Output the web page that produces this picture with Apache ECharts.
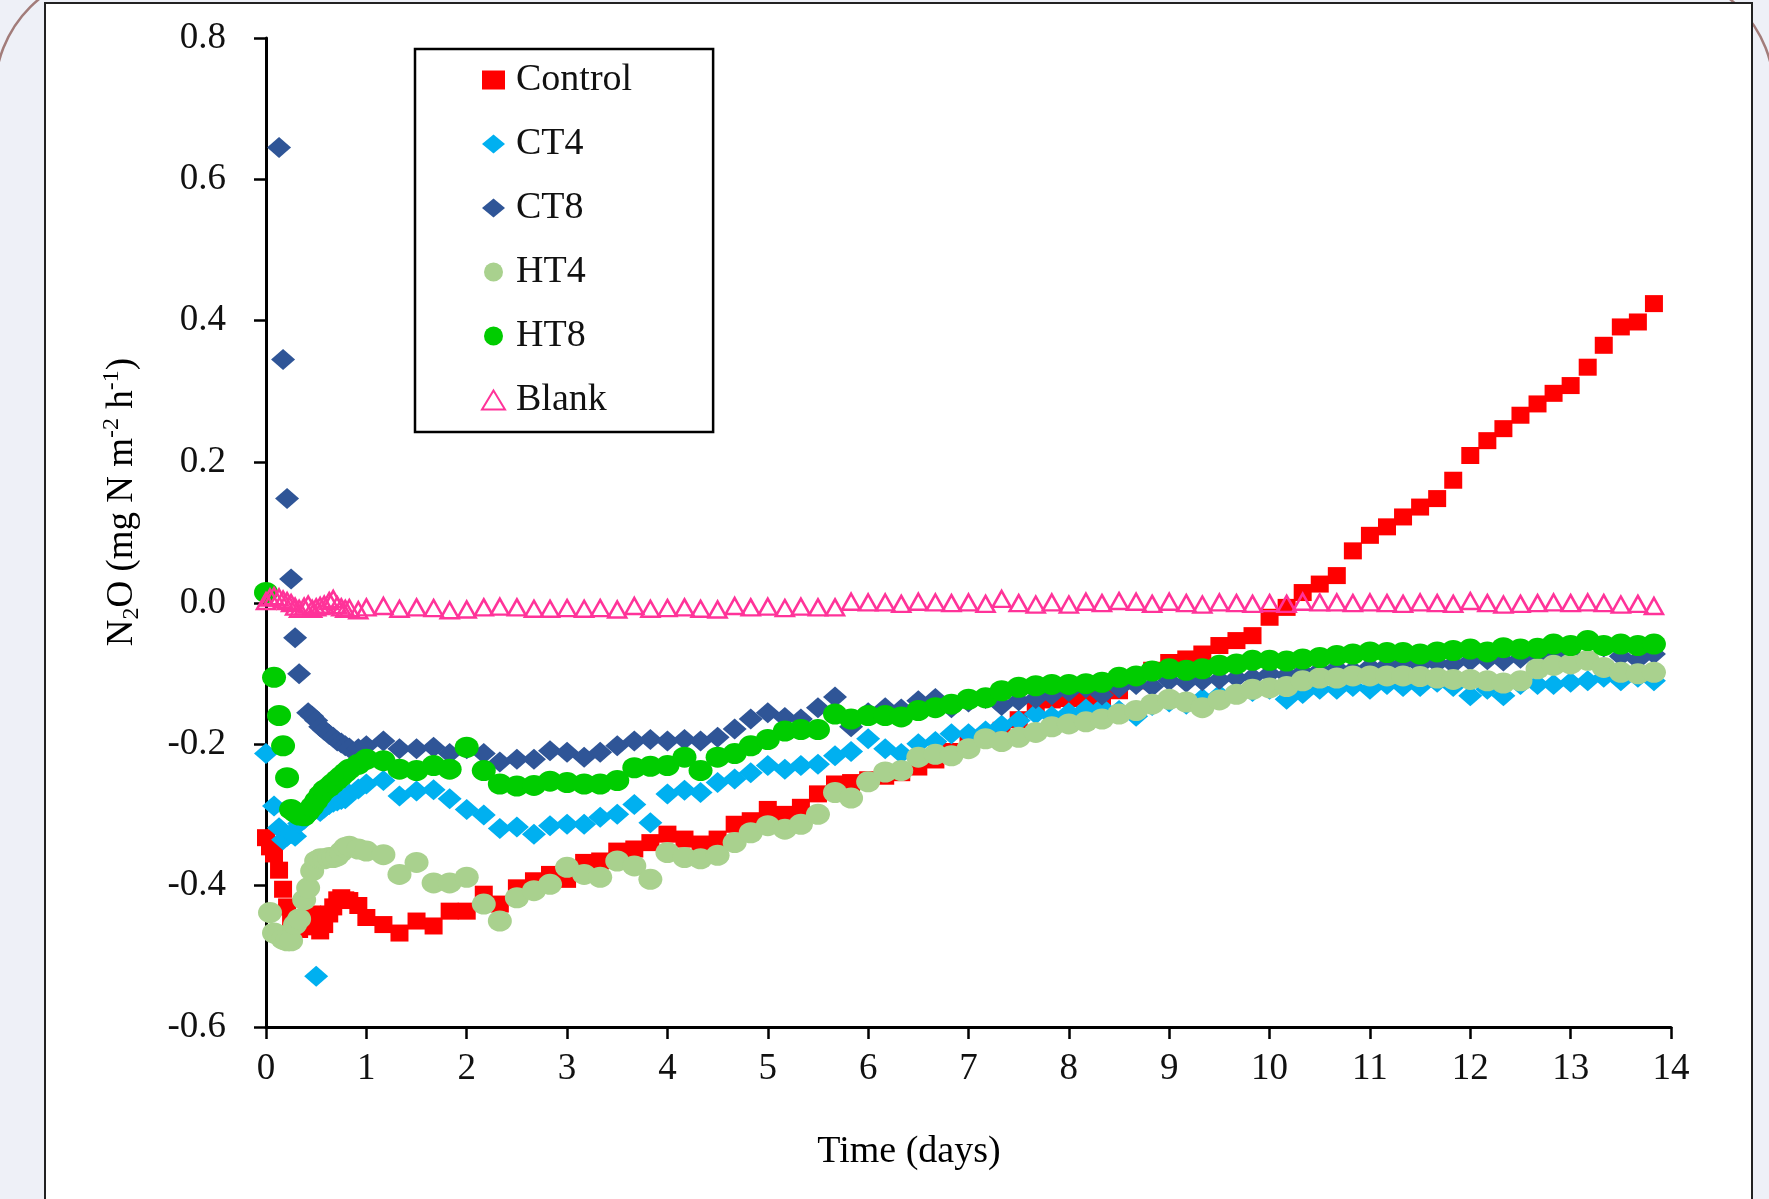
<!DOCTYPE html>
<html>
<head>
<meta charset="utf-8">
<script src="https://cdn.jsdelivr.net/npm/echarts@6/dist/echarts.min.js"></script>
<style>
  html, body { margin: 0; padding: 0; background: #eef0f7; }
  #chart { width: 1769px; height: 1199px; }
</style>
</head>
<body>
<div id="chart"></div>
<script>
// sampling times (days): hourly at the start, then every 4 h
const earlyDays = [0.00, 0.04, 0.08, 0.13, 0.17, 0.21, 0.25, 0.29, 0.33, 0.38, 0.42,
  0.46, 0.50, 0.54, 0.58, 0.63, 0.67, 0.71, 0.75, 0.79, 0.83, 0.92];
const gridDays = [
  1.00, 1.17, 1.33, 1.50, 1.67, 1.83, 2.00, 2.17, 2.33, 2.50, 2.67, 2.83,
  3.00, 3.17, 3.33, 3.50, 3.67, 3.83, 4.00, 4.17, 4.33, 4.50, 4.67, 4.83,
  5.00, 5.17, 5.33, 5.50, 5.67, 5.83, 6.00, 6.17, 6.33, 6.50, 6.67, 6.83,
  7.00, 7.17, 7.33, 7.50, 7.67, 7.83, 8.00, 8.17, 8.33, 8.50, 8.67, 8.83,
  9.00, 9.17, 9.33, 9.50, 9.67, 9.83, 10.00, 10.17, 10.33, 10.50, 10.67, 10.83,
  11.00, 11.17, 11.33, 11.50, 11.67, 11.83, 12.00, 12.17, 12.33, 12.50, 12.67, 12.83,
  13.00, 13.17, 13.33, 13.50, 13.67, 13.83];

// N2O flux, mg N m-2 h-1
const controlEarly = [-0.332, -0.345, -0.355, -0.378, -0.405, -0.430, -0.452, -0.460, -0.462, -0.458, -0.452,
  -0.440, -0.458, -0.464, -0.455, -0.440, -0.430, -0.420, -0.417, -0.420, -0.421, -0.428];
const controlLate = [
  -0.445, -0.455, -0.467, -0.450, -0.457, -0.436, -0.436, -0.412, -0.426, -0.403, -0.393, -0.384,
  -0.391, -0.367, -0.365, -0.351, -0.348, -0.339, -0.327, -0.334, -0.341, -0.334, -0.313, -0.308,
  -0.292, -0.299, -0.289, -0.270, -0.256, -0.254, -0.250, -0.245, -0.240, -0.232, -0.222, -0.210,
  -0.200, -0.190, -0.180, -0.165, -0.145, -0.137, -0.135, -0.133, -0.133, -0.124, -0.110, -0.095,
  -0.084, -0.079, -0.072, -0.060, -0.053, -0.046, -0.020, -0.006, 0.015, 0.027, 0.039, 0.074,
  0.096, 0.108, 0.122, 0.136, 0.148, 0.174, 0.209, 0.230, 0.247, 0.266, 0.282, 0.297,
  0.308, 0.334, 0.365, 0.391, 0.398, 0.424];

const ct4Early = [-0.213, null, -0.287, -0.318, -0.335, -0.330, -0.326, -0.330, -0.312, -0.306, -0.300,
  -0.292, -0.528, -0.295, -0.290, -0.285, -0.282, -0.280, -0.278, -0.277, -0.270, -0.263];
const ct4Late = [
  -0.256, -0.251, -0.273, -0.266, -0.264, -0.277, -0.292, -0.300, -0.319, -0.317, -0.327, -0.315,
  -0.313, -0.313, -0.303, -0.299, -0.285, -0.311, -0.270, -0.265, -0.268, -0.254, -0.249, -0.240,
  -0.230, -0.235, -0.230, -0.228, -0.216, -0.210, -0.192, -0.206, -0.213, -0.199, -0.196, -0.185,
  -0.185, -0.181, -0.173, -0.166, -0.157, -0.160, -0.155, -0.150, -0.148, -0.152, -0.160, -0.145,
  -0.140, -0.143, -0.135, -0.130, -0.128, -0.125, -0.122, -0.136, -0.128, -0.122, -0.122, -0.118,
  -0.122, -0.115, -0.118, -0.118, -0.112, -0.118, -0.131, -0.122, -0.131, -0.115, -0.115, -0.115,
  -0.112, -0.110, -0.105, -0.110, -0.105, -0.110];

const ct8Early = [null, null, null, 0.645, 0.345, 0.148, 0.034, -0.049, -0.100, null, -0.155,
  -0.160, -0.166, -0.175, -0.180, -0.186, -0.190, -0.195, -0.198, -0.202, -0.205, -0.206];
const ct8Late = [
  -0.202, -0.195, -0.206, -0.206, -0.204, -0.213, -0.206, -0.213, -0.225, -0.221, -0.221, -0.209,
  -0.211, -0.218, -0.211, -0.202, -0.195, -0.193, -0.195, -0.193, -0.195, -0.190, -0.178, -0.164,
  -0.155, -0.162, -0.164, -0.148, -0.133, -0.175, -0.155, -0.148, -0.150, -0.138, -0.135, -0.148,
  -0.140, -0.135, -0.145, -0.138, -0.135, -0.130, -0.125, -0.120, -0.130, -0.120, -0.115, -0.118,
  -0.110, -0.112, -0.110, -0.108, -0.106, -0.105, -0.100, -0.102, -0.098, -0.095, -0.092, -0.095,
  -0.090, -0.088, -0.085, -0.088, -0.085, -0.086, -0.082, -0.080, -0.082, -0.078, -0.076, -0.074,
  -0.072, -0.056, -0.062, -0.075, -0.080, -0.072];

const ht4Early = [null, -0.438, -0.467, -0.470, -0.476, -0.478, -0.478, -0.455, -0.447, -0.420, -0.403,
  -0.379, -0.365, -0.362, -0.362, -0.360, -0.360, -0.358, -0.352, -0.346, -0.344, -0.348];
const ht4Late = [
  -0.351, -0.356, -0.384, -0.367, -0.396, -0.396, -0.388, -0.426, -0.450, -0.417, -0.407, -0.398,
  -0.374, -0.384, -0.388, -0.365, -0.372, -0.391, -0.353, -0.360, -0.362, -0.357, -0.339, -0.325,
  -0.315, -0.320, -0.313, -0.299, -0.268, -0.276, -0.253, -0.239, -0.237, -0.218, -0.214, -0.216,
  -0.206, -0.192, -0.196, -0.190, -0.183, -0.175, -0.171, -0.168, -0.164, -0.157, -0.152, -0.143,
  -0.136, -0.140, -0.148, -0.137, -0.129, -0.122, -0.120, -0.118, -0.110, -0.106, -0.106, -0.103,
  -0.103, -0.103, -0.103, -0.104, -0.106, -0.108, -0.108, -0.110, -0.113, -0.110, -0.093, -0.088,
  -0.086, -0.081, -0.091, -0.098, -0.100, -0.098];

const ht8Early = [0.015, null, -0.105, -0.159, -0.202, -0.247, -0.292, -0.296, -0.300, -0.301, -0.295,
  -0.288, -0.280, -0.272, -0.265, -0.260, -0.255, -0.250, -0.245, -0.240, -0.235, -0.228];
const ht8Late = [
  -0.221, -0.223, -0.235, -0.237, -0.230, -0.235, -0.204, -0.237, -0.256, -0.259, -0.258, -0.252,
  -0.254, -0.256, -0.256, -0.251, -0.233, -0.231, -0.230, -0.218, -0.237, -0.218, -0.213, -0.202,
  -0.193, -0.181, -0.179, -0.179, -0.157, -0.164, -0.159, -0.159, -0.161, -0.152, -0.148, -0.143,
  -0.136, -0.134, -0.124, -0.119, -0.117, -0.115, -0.115, -0.114, -0.112, -0.105, -0.103, -0.096,
  -0.093, -0.095, -0.093, -0.088, -0.086, -0.081, -0.081, -0.082, -0.079, -0.077, -0.074, -0.072,
  -0.069, -0.070, -0.070, -0.072, -0.069, -0.067, -0.065, -0.069, -0.063, -0.065, -0.064, -0.058,
  -0.060, -0.053, -0.060, -0.058, -0.060, -0.058];

const blankEarly = [0.003, 0.008, 0.010, 0.008, 0.005, 0.003, 0.000, -0.005, -0.008, -0.005, -0.002,
  -0.008, -0.006, -0.004, -0.002, 0.003, 0.006, -0.003, -0.006, -0.008, -0.007, -0.010];
const blankLate = [
  -0.006, -0.004, -0.008, -0.006, -0.007, -0.010, -0.009, -0.006, -0.005, -0.006, -0.008, -0.008,
  -0.007, -0.008, -0.007, -0.009, -0.004, -0.008, -0.007, -0.006, -0.008, -0.009, -0.004, -0.006,
  -0.005, -0.007, -0.005, -0.006, -0.006, 0.002, 0.001, 0.001, -0.001, 0.002, 0.001, 0.000,
  0.001, -0.001, 0.006, 0.000, -0.002, 0.001, -0.002, 0.002, 0.000, 0.003, 0.002, -0.001,
  0.002, 0.000, -0.002, 0.001, 0.000, -0.001, 0.000, -0.001, 0.002, 0.001, 0.001, 0.000,
  0.001, 0.000, -0.001, 0.001, 0.000, -0.001, 0.003, 0.000, -0.002, -0.001, 0.000, 0.001,
  0.000, 0.001, 0.000, -0.002, -0.001, -0.004];

const xTicks = [0, 14, 1];
const yTicks = [-0.6, 0.8, 0.2];

const FONT = '"Liberation Serif", "Times New Roman", serif';

const pairs = (days, vals) => {
  const out = [];
  vals.forEach((v, i) => {
    if (v !== null) out.push([days[i], v]);
  });
  return out;
};
const seriesData = (early, late) => pairs(earlyDays, early).concat(pairs(gridDays, late));

const serie = {
  type: 'scatter',
  animation: false,
  emphasis: { disabled: true },
};

const chart = echarts.init(document.getElementById('chart'));
chart.setOption({
  animation: false,
  backgroundColor: '#eef0f7',
  graphic: [
    {
      type: 'rect',
      z: -20,
      silent: true,
      shape: { x: -5, y: -28, width: 1779, height: 1400, r: 120 },
      style: { fill: 'none', stroke: '#a27c7a', lineWidth: 2.5 },
    },
    {
      type: 'rect',
      z: -10,
      silent: true,
      shape: { x: 45, y: 3, width: 1707, height: 1260 },
      style: { fill: '#fff', stroke: '#222', lineWidth: 2 },
    },
    {
      type: 'text',
      x: 122,
      y: 502,
      rotation: Math.PI / 2,
      silent: true,
      style: {
        text: '{n|N}{sub|2}{n|O (mg N m}{sup|-2}{n| h}{sup|-1}{n|)}',
        align: 'center',
        verticalAlign: 'middle',
        fill: '#000',
        rich: {
          n: { fontFamily: FONT, fontSize: 37, lineHeight: 44, fill: '#000' },
          sub: { fontFamily: FONT, fontSize: 24, lineHeight: 24, verticalAlign: 'bottom', fill: '#000' },
          sup: { fontFamily: FONT, fontSize: 24, lineHeight: 24, verticalAlign: 'top', fill: '#000' },
        },
      },
    },
    {
      type: 'text',
      x: 909,
      y: 1152,
      silent: true,
      style: {
        text: 'Time (days)',
        font: '38px ' + FONT,
        fill: '#000',
        align: 'center',
        verticalAlign: 'middle',
      },
    },
  ],
  grid: {
    left: 266,
    right: 98,
    top: 38,
    bottom: 172,
    containLabel: false,
  },
  legend: {
    orient: 'vertical',
    left: 415,
    top: 49,
    padding: [11, 81, 12, 66],
    itemGap: 24,
    itemWidth: 23,
    itemHeight: 19,
    symbolKeepAspect: false,
    borderColor: '#000',
    borderWidth: 2.5,
    backgroundColor: '#fff',
    textStyle: {
      fontFamily: FONT,
      fontSize: 38,
      lineHeight: 40,
      color: '#111',
      padding: [0, 0, 0, 6],
    },
    data: ['Control', 'CT4', 'CT8', 'HT4', 'HT8', 'Blank'],
  },
  xAxis: {
    type: 'value',
    min: xTicks[0],
    max: xTicks[1],
    interval: xTicks[2],
    axisLine: { show: true, onZero: false, lineStyle: { color: '#000', width: 3 } },
    axisTick: { show: true, inside: false, length: 12, lineStyle: { color: '#000', width: 2.5 } },
    splitLine: { show: false },
    axisLabel: {
      margin: 24,
      color: '#111',
      fontFamily: FONT,
      fontSize: 37,
    },
  },
  yAxis: {
    type: 'value',
    min: yTicks[0],
    max: yTicks[1],
    interval: yTicks[2],
    axisLine: { show: true, onZero: false, lineStyle: { color: '#000', width: 3 } },
    axisTick: { show: true, inside: false, length: 12, lineStyle: { color: '#000', width: 2.5 } },
    splitLine: { show: false },
    axisLabel: {
      margin: 40,
      color: '#111',
      fontFamily: FONT,
      fontSize: 37,
      formatter: v => v.toFixed(1),
    },
  },
  series: [
    {
      ...serie,
      name: 'Control',
      symbol: 'rect',
      symbolSize: [18, 17],
      itemStyle: { color: '#ff0000', opacity: 1 },
      data: seriesData(controlEarly, controlLate),
    },
    {
      ...serie,
      name: 'CT4',
      symbol: 'diamond',
      symbolSize: [24, 21],
      itemStyle: { color: '#00b0f0', opacity: 1 },
      data: seriesData(ct4Early, ct4Late),
    },
    {
      ...serie,
      name: 'CT8',
      symbol: 'diamond',
      symbolSize: [24, 21],
      itemStyle: { color: '#2f5597', opacity: 1 },
      data: seriesData(ct8Early, ct8Late),
    },
    {
      ...serie,
      name: 'HT4',
      symbol: 'circle',
      symbolSize: [24, 21],
      itemStyle: { color: '#a9d18e', opacity: 1 },
      data: seriesData(ht4Early, ht4Late),
    },
    {
      ...serie,
      name: 'HT8',
      symbol: 'circle',
      symbolSize: [24, 21],
      itemStyle: { color: '#00cc00', opacity: 1 },
      data: seriesData(ht8Early, ht8Late),
    },
    {
      ...serie,
      name: 'Blank',
      symbol: 'triangle',
      symbolSize: [18, 16],
      itemStyle: { color: 'rgba(255,255,255,0)', borderColor: '#ff3399', borderWidth: 2.5, opacity: 1 },
      data: seriesData(blankEarly, blankLate),
    },
  ],
});
</script>
</body>
</html>
